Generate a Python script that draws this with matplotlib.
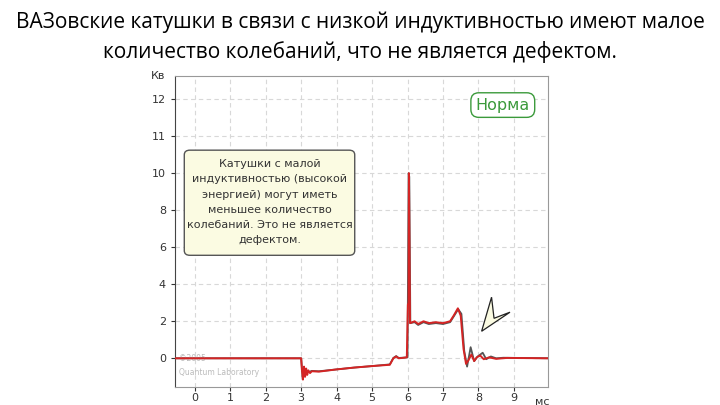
import matplotlib
matplotlib.use("Agg")
import matplotlib.pyplot as plt
from matplotlib.patches import FancyBboxPatch, Polygon

# waveform, time in ms, voltage in kV
t_red = [-0.6, 3.0, 3.02, 3.05, 3.08, 3.11, 3.14, 3.17, 3.2, 3.25, 3.3, 3.5, 4.0, 4.5, 5.0,
         5.5, 5.6, 5.68, 5.75, 5.85, 5.98, 6.01, 6.03, 6.04, 6.07, 6.2, 6.3, 6.45, 6.6,
         6.8, 7.0, 7.2, 7.3, 7.42, 7.5, 7.58, 7.65, 7.72, 7.8, 7.88, 7.95, 8.05, 8.15,
         8.3, 8.5, 8.8, 10.0]
kv_red = [0.0, 0.0, -0.6, -1.15, -0.45, -1.0, -0.55, -0.9, -0.65, -0.8, -0.7, -0.72, -0.6,
          -0.5, -0.42, -0.35, 0.0, 0.1, 0.0, 0.02, 0.05, 2.9, 3.0, 10.0, 1.9, 2.0, 1.85,
          2.0, 1.9, 1.95, 1.9, 2.0, 2.3, 2.7, 2.3, 0.5, -0.3, -0.1, 0.2, -0.15, 0.05,
          0.15, -0.05, 0.05, -0.03, 0.02, 0.0]

t_gray = [-0.6, 3.0, 3.04, 3.1, 3.2, 3.3, 3.5, 4.0, 4.5, 5.0, 5.5, 5.6, 5.68, 5.75, 5.85,
          6.0, 6.03, 6.05, 6.08, 6.2, 6.3, 6.45, 6.6, 6.8, 7.0, 7.2, 7.3, 7.43, 7.52,
          7.6, 7.68, 7.78, 7.88, 7.98, 8.12, 8.22, 8.35, 8.5, 8.7, 10.0]
kv_gray = [0.0, 0.0, -1.0, -0.6, -0.75, -0.68, -0.7, -0.6, -0.5, -0.42, -0.33, 0.02, 0.12,
           0.02, 0.03, 0.05, 10.0, 9.8, 1.9, 1.95, 1.8, 1.95, 1.85, 1.9, 1.85, 1.95, 2.25,
           2.65, 2.4, 0.4, -0.45, 0.6, -0.15, 0.1, 0.3, -0.05, 0.1, 0.0, 0.03, 0.0]

x_ticks = [0, 1, 2, 3, 4, 5, 6, 7, 8, 9]
y_tick_kv = [0, 2, 4, 6, 8, 10, 11, 12]

# cursor arrow (data units: ms, kV)
cursor_t = [8.09, 8.37, 8.44, 8.89]
cursor_kv = [1.46, 3.3, 2.16, 2.49]

note = ("Катушки с малой\nиндуктивностью (высокой\nэнергией) могут иметь\n"
        "меньшее количество\nколебаний. Это не является\nдефектом.")


def scale(v):
    # the y axis is 2 kV per step up to 10, then 1 kV per step
    return v / 2.0 if v <= 10 else v - 5.0


fig = plt.figure(figsize=(7.2, 4.05), dpi=100)
fig.text(0.5, 0.945, "ВАЗовские катушки в связи с низкой индуктивностью имеют малое",
         ha="center", va="center", fontsize=15, family="Open Sans", color="black")
fig.text(0.5, 0.872, "количество колебаний, что не является дефектом.",
         ha="center", va="center", fontsize=15, family="Open Sans", color="black")

ax = fig.add_axes([0.243, 0.044, 0.518, 0.768])
ax.plot(t_gray, [scale(v) for v in kv_gray], color="#555555", lw=1.3, zorder=3)
ax.plot(t_red, [scale(v) for v in kv_red], color="#d42424", lw=1.4, zorder=4)

ax.set_xlim(-0.56, 9.96)
ax.set_ylim(-0.78, 7.62)
ax.set_xticks(x_ticks)
ax.set_xticklabels([str(v) for v in x_ticks])
ax.set_yticks([scale(v) for v in y_tick_kv])
ax.set_yticklabels([str(v) for v in y_tick_kv])
ax.tick_params(labelsize=8, colors="#333333", length=3, width=0.8)
ax.tick_params(axis="x", pad=1)
ax.grid(True, color="#d8d8d8", ls=(0, (4, 3)), lw=0.8)
ax.set_axisbelow(True)
for side in ["top", "right", "bottom"]:
    ax.spines[side].set_color("#999999")
ax.spines["left"].set_color("#444444")

ax.text(-0.045, 1.0, "Кв", transform=ax.transAxes, fontsize=8, color="#333333",
        ha="center", va="center")
ax.text(0.985, -0.03, "мс", transform=ax.transAxes, fontsize=8, color="#333333",
        ha="center", va="top")

ax.text(0.01, 0.07, "©2005\nQuantum Laboratory", transform=ax.transAxes, fontsize=5.5,
        color="#bbbbbb", ha="left", va="center", linespacing=1.6)

# note box
box = FancyBboxPatch((0.025, 0.424), 0.457, 0.338, boxstyle="round,pad=0,rounding_size=0.015",
                     transform=ax.transAxes, facecolor="#fbfbe2", edgecolor="#555555",
                     lw=1.0, zorder=5)
ax.add_patch(box)
ax.text(0.254, 0.595, note, transform=ax.transAxes, ha="center", va="center",
        fontsize=8, color="#333333", linespacing=1.65, zorder=6)

# "Норма" label
ax.text(0.879, 0.907, "Норма", transform=ax.transAxes, ha="center", va="center",
        fontsize=11.5, color="#3b9a3b", zorder=6,
        bbox=dict(boxstyle="round,pad=0.3,rounding_size=0.5", fc="white",
                  ec="#3b9a3b", lw=1.0))

cur = Polygon(list(zip(cursor_t, [scale(v) for v in cursor_kv])), closed=True,
              facecolor="#fbfbe2", edgecolor="#222222", lw=0.9, zorder=5)
ax.add_patch(cur)

fig.savefig("out.png", dpi=100)
